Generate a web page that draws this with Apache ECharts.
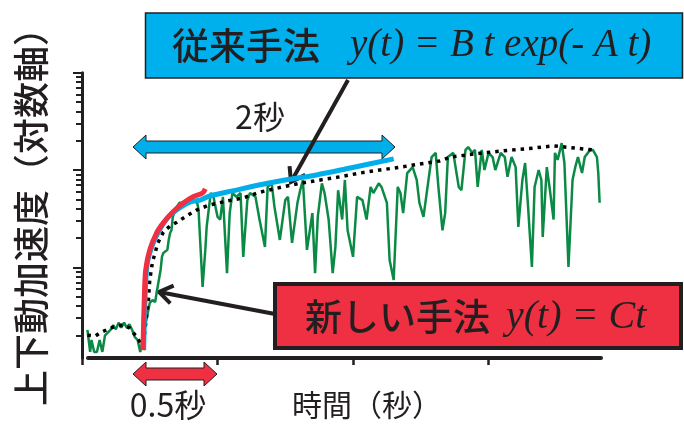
<!DOCTYPE html>
<html>
<head>
<meta charset="utf-8">
<title>上下動加速度</title>
<script src="https://cdn.jsdelivr.net/npm/echarts@6/dist/echarts.min.js"></script>
</head>
<body style="margin:0;background:#fff">
<div id="main" style="width:684px;height:425px;"></div>
<script>
// 読み取り値: [時間(秒), 上下動加速度]
var measured = [
  [0.04,2.27],[0.06,1.35],[0.07,1.79],[0.09,1.35],[0.11,1.35],[0.13,1.79],[0.15,1.35],[0.17,2.0],
  [0.21,2.27],[0.23,2.55],[0.25,2.3],[0.27,2.7],[0.29,2.4],[0.31,2.7],[0.33,2.4],[0.35,2.6],
  [0.37,2.27],[0.39,1.92],[0.41,1.8],[0.43,1.35],[0.44,1.41],[0.46,2.27],[0.48,3.1],[0.50,4.3],
  [0.52,4.6],[0.54,4.4],[0.55,5.4],[0.58,9.4],[0.59,12.8],[0.60,14.0],[0.63,15.1],[0.64,19.1],
  [0.65,22.5],[0.66,24],[0.67,33],[0.70,42],[0.72,46],[0.75,46],[0.78,49],[0.81,49],
  [0.85,46],[0.86,39],[0.89,6.3],[0.91,15.1],[0.92,26],[0.95,58],[0.97,53],[1.00,33],
  [1.02,31],[1.04,53],[1.07,8.7],[1.09,36],[1.11,58],[1.14,53],[1.17,58],[1.19,12.8],
  [1.22,49],[1.24,58],[1.28,53],[1.31,31],[1.35,16.2],[1.37,67],[1.40,73],[1.42,42],
  [1.46,19.1],[1.50,49],[1.52,53],[1.55,17.8],[1.59,46],[1.61,62],[1.63,79],[1.66,15.1],
  [1.70,36],[1.72,8.7],[1.74,33],[1.77,73],[1.79,58],[1.82,31],[1.85,8.7],[1.87,16.2],
  [1.89,62],[1.92,31],[1.94,79],[1.96,24],[2.00,12.8],[2.03,53],[2.07,49],[2.10,31],
  [2.13,67],[2.15,58],[2.19,73],[2.21,67],[2.25,46],[2.27,11.9],[2.30,7.4],[2.33,67],
  [2.35,58],[2.37,36],[2.40,93],[2.44,107],[2.47,79],[2.49,46],[2.52,33],[2.55,67],
  [2.58,136],[2.61,150],[2.63,67],[2.66,24],[2.68,36],[2.70,136],[2.74,150],[2.78,67],
  [2.80,62],[2.83,161],[2.85,172],[2.88,150],[2.90,161],[2.92,67],[2.95,161],[2.97,100],
  [3.00,150],[3.03,136],[3.05,100],[3.09,150],[3.12,136],[3.14,85],[3.17,136],[3.20,107],
  [3.22,26],[3.25,79],[3.27,118],[3.29,46],[3.32,10.1],[3.34,67],[3.37,100],[3.39,79],
  [3.40,20.5],[3.43,107],[3.45,67],[3.48,31],[3.49,150],[3.51,127],[3.54,189],[3.56,118],
  [3.59,10.1],[3.62,79],[3.64,107],[3.66,136],[3.69,93],[3.71,136],[3.75,161],[3.77,161],
  [3.80,136],[3.81,93],[3.82,46]
];
// 黒点線 (包絡線)
var envelope = [
  [0.04,2.0],[0.10,1.97],[0.13,2.11],[0.18,2.27],[0.23,2.43],[0.30,2.55],[0.35,2.38],[0.41,1.88],
  [0.44,1.59],[0.46,2.0],[0.49,4.6],[0.50,7.4],[0.52,11.3],[0.56,17.8],[0.60,23],[0.65,26.6],
  [0.70,29],[0.77,33.6],[0.85,39],[0.94,43.7],[1.07,48],[1.19,51.6],[1.31,59],[1.48,67],
  [1.61,73],[1.76,79],[1.90,85],[2.05,93],[2.20,100],[2.35,107],[2.49,115],[2.64,124],
  [2.72,136],[2.96,150],[3.18,161],[3.33,168],[3.48,177],[3.64,168],[3.77,161]
];
// 従来手法 y(t) = B t exp(-A t)
var oldFit = [
  [0.455,1.41],[0.465,4.6],[0.48,10.6],[0.52,17],[0.58,25.3],[0.63,32],[0.70,39],[0.80,47],
  [0.87,49],[0.94,54],[1.11,61],[1.37,73],[1.55,81],[1.73,89],[1.98,105],[2.30,130]
];
// 新しい手法 y(t) = Ct
var newFit = [
  [0.45,1.41],[0.46,4.95],[0.47,9.4],[0.50,15.1],[0.55,22.5],[0.60,28.6],[0.67,37],
  [0.75,46],[0.82,53],[0.89,58],[0.91,64]
];
var xTicks = [0, 1, 2, 3];
var yMajor = [10, 100, 1000];
var yMinor = [2,3,4,5,6,7,8,9,20,30,40,50,60,70,80,90,200,300,400,500,600,700,800,900];

var ink = '#231f20';
var jp = '"Noto Sans CJK JP", sans-serif';

function dblArrow(x1, x2, yc, fill) {
    var h = 6, H = 12, L = 13;
    return {
        type: 'polygon',
        shape: { points: [[x1, yc], [x1 + L, yc - H], [x1 + L, yc - h], [x2 - L, yc - h], [x2 - L, yc - H],
                          [x2, yc], [x2 - L, yc + H], [x2 - L, yc + h], [x1 + L, yc + h], [x1 + L, yc + H]] },
        style: { fill: fill, stroke: ink, lineWidth: 1 }
    };
}

function pointer(from, to) {
    var a = Math.atan2(from[1] - to[1], from[0] - to[0]);
    var len = 16, spread = 0.6;
    return [{
        type: 'polyline',
        shape: { points: [from, to] },
        style: { stroke: ink, lineWidth: 4 }
    }, {
        type: 'polyline',
        shape: { points: [
            [to[0] + len * Math.cos(a + spread), to[1] + len * Math.sin(a + spread)],
            to,
            [to[0] + len * Math.cos(a - spread), to[1] + len * Math.sin(a - spread)]
        ] },
        style: { stroke: ink, lineWidth: 4, lineJoin: 'miter' }
    }];
}

var myChart = echarts.init(document.getElementById('main'));

var gridPos = { left: 82, right: 83, top: 72.7, bottom: 67 };

myChart.setOption({
    animation: false,
    grid: [
        { left: gridPos.left, right: gridPos.right, top: gridPos.top, bottom: gridPos.bottom },
        { left: 88, right: gridPos.right, top: gridPos.top, bottom: gridPos.bottom }
    ],
    xAxis: [{
        type: 'value', gridIndex: 0, min: 0, max: 3.83,
        splitLine: { show: false },
        axisLine: { show: false },
        axisLabel: { show: false },
        axisTick: { show: true, length: 7, customValues: xTicks, lineStyle: { color: ink, width: 2.5 } }
    }, {
        type: 'value', gridIndex: 1, min: 0, max: 1,
        splitLine: { show: false },
        axisLabel: { show: false },
        axisTick: { show: false },
        axisLine: { show: true, lineStyle: { color: ink, width: 4 } }
    }],
    yAxis: [{
        type: 'log', gridIndex: 0, min: 1.169, max: 1000, position: 'left',
        splitLine: { show: false },
        axisLabel: { show: false },
        axisLine: { show: true, lineStyle: { color: ink, width: 3 } },
        axisTick: { show: true, length: 9, customValues: yMajor, lineStyle: { color: ink, width: 2 } }
    }, {
        type: 'log', gridIndex: 0, min: 1.169, max: 1000, position: 'left',
        splitLine: { show: false },
        axisLabel: { show: false },
        axisLine: { show: false },
        axisTick: { show: true, length: 6, customValues: yMinor, lineStyle: { color: ink, width: 2 } }
    }, {
        type: 'value', gridIndex: 1, show: false
    }],
    series: [{
        type: 'line', data: measured, showSymbol: false,
        lineStyle: { color: '#0b8a45', width: 2.5 }
    }, {
        type: 'line', data: envelope, showSymbol: false,
        lineStyle: { color: '#000', width: 3.5, type: [3.5, 5] }
    }, {
        type: 'line', data: oldFit, showSymbol: false, smooth: 0.3,
        lineStyle: { color: '#00aeea', width: 5 }
    }, {
        type: 'line', data: newFit, showSymbol: false, smooth: 0.3,
        lineStyle: { color: '#ee3042', width: 5 }
    }],
    graphic: { elements: [
        {
            type: 'text', x: 31, y: 208, rotation: Math.PI / 2,
            style: { text: '上下動加速度（対数軸）', font: '500 36px ' + jp, fill: ink, align: 'center', verticalAlign: 'middle' }
        },
        { type: 'text', x: 367, y: 405, style: { text: '時間（秒）', font: '30px ' + jp, fill: ink, align: 'center', verticalAlign: 'middle' } },
        { type: 'text', x: 168, y: 405, style: { text: '0.5秒', font: '32px ' + jp, fill: ink, align: 'center', verticalAlign: 'middle' } },
        { type: 'text', x: 260, y: 117, style: { text: '2秒', font: '32px ' + jp, fill: ink, align: 'center', verticalAlign: 'middle' } },
        dblArrow(133, 395, 147, '#00aeea'),
        dblArrow(133, 217, 374, '#ee3042'),
        {
            type: 'rect', shape: { x: 145.5, y: 13, width: 537, height: 65 },
            style: { fill: '#00b0ec', stroke: ink, lineWidth: 1.5 }
        },
        {
            type: 'text', x: 172, y: 46,
            style: {
                text: '{a|従来手法}{b|y(t) = B t exp(- A t)}',
                verticalAlign: 'middle',
                rich: {
                    a: { font: '500 37px ' + jp, fill: ink },
                    b: { font: 'italic 39px "Liberation Serif", serif', fill: ink, padding: [0, 0, 0, 30] }
                }
            }
        },
        {
            type: 'rect', shape: { x: 275, y: 284, width: 406, height: 64 },
            style: { fill: '#ee3042', stroke: ink, lineWidth: 4 }
        },
        {
            type: 'text', x: 305, y: 317,
            style: {
                text: '{a|新しい手法}{b|y(t) = Ct}',
                verticalAlign: 'middle',
                rich: {
                    a: { font: '500 37px ' + jp, fill: ink },
                    b: { font: 'italic 40px "Liberation Serif", serif', fill: ink, padding: [0, 0, 0, 16] }
                }
            }
        }
    ].concat(pointer([348, 80], [291, 182])).concat(pointer([275, 314], [159, 292])) }
});
</script>
</body>
</html>
